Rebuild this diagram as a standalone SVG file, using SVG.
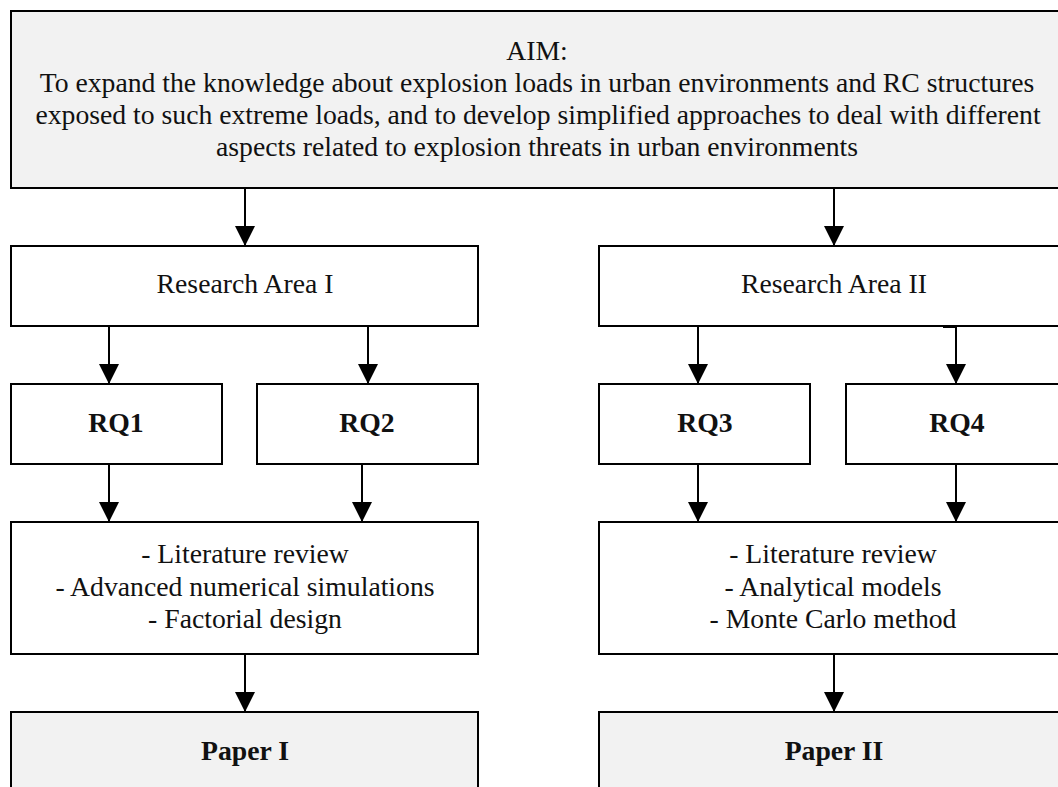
<svg xmlns="http://www.w3.org/2000/svg" width="1058" height="787" viewBox="0 0 1058 787">
<defs>
<style>
.box{fill:#ffffff;stroke:#000;stroke-width:2}
.grey{fill:#f2f2f2;stroke:#000;stroke-width:2}
text{font-family:"Liberation Serif","Times New Roman",serif;font-size:27.7px;fill:#111;text-anchor:middle}
.b{font-weight:bold}
.c{stroke:#000;stroke-width:2;fill:none;marker-end:url(#ah)}
</style>
<marker id="ah" viewBox="0 0 20 20" refX="20" refY="10" markerWidth="20" markerHeight="20" markerUnits="userSpaceOnUse" orient="auto">
<path d="M0,0 L20,10 L0,20 Z" fill="#000"/>
</marker>
</defs>
<rect width="1058" height="787" fill="#fff"/>
<g id="aim">
<rect class="grey" x="11" y="11" width="1060" height="177"/>
<text x="537" y="60">AIM:</text>
<text x="537" y="92">To expand the knowledge about explosion loads in urban environments and RC structures</text>
<text x="538" y="124">exposed to such extreme loads, and to develop simplified approaches to deal with different</text>
<text x="537" y="156">aspects related to explosion threats in urban environments</text>
</g>
<g id="ra1">
<rect class="box" x="11" y="246" width="467" height="80"/>
<text x="245" y="293">Research Area I</text>
</g>
<g id="ra2">
<rect class="box" x="599" y="246" width="470" height="80"/>
<text x="834" y="293">Research Area II</text>
</g>
<g id="rq1">
<rect class="box" x="11" y="384" width="211" height="80"/>
<text class="b" x="116" y="432">RQ1</text>
</g>
<g id="rq2">
<rect class="box" x="257" y="384" width="221" height="80"/>
<text class="b" x="367" y="432">RQ2</text>
</g>
<g id="rq3">
<rect class="box" x="599" y="384" width="211" height="80"/>
<text class="b" x="705" y="432">RQ3</text>
</g>
<g id="rq4">
<rect class="box" x="846" y="384" width="220" height="80"/>
<text class="b" x="957" y="432">RQ4</text>
</g>
<g id="m1">
<rect class="box" x="11" y="522" width="467" height="132"/>
<text x="245" y="563">- Literature review</text>
<text x="245" y="596">- Advanced numerical simulations</text>
<text x="245" y="628">- Factorial design</text>
</g>
<g id="m2">
<rect class="box" x="599" y="522" width="470" height="132"/>
<text x="833" y="563">- Literature review</text>
<text x="833" y="596">- Analytical models</text>
<text x="833" y="628">- Monte Carlo method</text>
</g>
<g id="p1">
<rect class="grey" x="11" y="712" width="467" height="90"/>
<text class="b" x="245" y="760">Paper I</text>
</g>
<g id="p2">
<rect class="grey" x="599" y="712" width="470" height="90"/>
<text class="b" x="834" y="760">Paper II</text>
</g>
<g id="connectors">
<path class="c" d="M245,188 V246"/>
<path class="c" d="M834,188 V246"/>
<path class="c" d="M109,326 V384"/>
<path class="c" d="M368,326 V384"/>
<path class="c" d="M698,326 V384"/>
<path class="c" d="M943,327 H956 V384"/>
<path class="c" d="M109,464 V522"/>
<path class="c" d="M362,464 V522"/>
<path class="c" d="M698,464 V522"/>
<path class="c" d="M956,464 V522"/>
<path class="c" d="M245,654 V712"/>
<path class="c" d="M834,654 V712"/>
</g>
</svg>
